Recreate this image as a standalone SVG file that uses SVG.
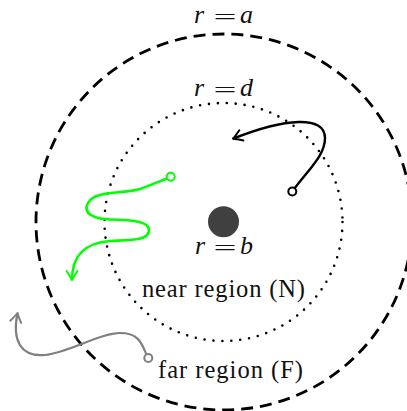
<svg xmlns="http://www.w3.org/2000/svg" width="407" height="411" viewBox="0 0 407 411">
<style>
.lbl{font-family:"Liberation Serif","Times New Roman",serif;font-size:24.5px;fill:#111}
.it{font-style:italic;font-size:26px}
.eq{font-size:22px}
.open{fill:#fff;stroke-width:2}
</style>
<defs>
<marker id="ahB" markerUnits="userSpaceOnUse" markerWidth="16" markerHeight="16" refX="0" refY="0" viewBox="-10 -8 12 16" orient="auto">
<path d="M-9,-5.5 Q-3,-1.5 0,0 Q-3,1.5 -9,5.5" fill="none" stroke="#000" stroke-width="2" stroke-linecap="round" stroke-linejoin="round"/>
</marker>
<marker id="ahG" markerUnits="userSpaceOnUse" markerWidth="16" markerHeight="16" refX="0" refY="0" viewBox="-10 -8 12 16" orient="auto">
<path d="M-9,-5.5 Q-3,-1.5 0,0 Q-3,1.5 -9,5.5" fill="none" stroke="#00ff00" stroke-width="2" stroke-linecap="round" stroke-linejoin="round"/>
</marker>
<marker id="ahY" markerUnits="userSpaceOnUse" markerWidth="16" markerHeight="16" refX="0" refY="0" viewBox="-10 -8 12 16" orient="auto">
<path d="M-9,-5.5 Q-3,-1.5 0,0 Q-3,1.5 -9,5.5" fill="none" stroke="#808080" stroke-width="2" stroke-linecap="round" stroke-linejoin="round"/>
</marker>
</defs>
<g id="outer-boundary">
<circle cx="224" cy="222" r="188" fill="none" stroke="#000" stroke-width="2.8" stroke-dasharray="12 7"/>
<text class="lbl" y="23"><tspan class="it" x="194">r</tspan></text>
<text class="lbl eq" x="213.5" y="24" textLength="23" lengthAdjust="spacingAndGlyphs">=</text>
<text class="lbl" y="23"><tspan class="it" x="240">a</tspan></text>
</g>
<g id="near-boundary">
<circle cx="223.5" cy="222" r="119" fill="none" stroke="#000" stroke-width="2.6" stroke-linecap="round" stroke-dasharray="0 8.95"/>
<text class="lbl" y="96"><tspan class="it" x="194">r</tspan></text>
<text class="lbl eq" x="213.5" y="97" textLength="23" lengthAdjust="spacingAndGlyphs">=</text>
<text class="lbl" y="96"><tspan class="it" x="240">d</tspan></text>
</g>
<g id="center-body">
<circle cx="223.5" cy="221.7" r="15.5" fill="#404040"/>
<text class="lbl" y="254"><tspan class="it" x="195">r</tspan></text>
<text class="lbl eq" x="213.5" y="255" textLength="23" lengthAdjust="spacingAndGlyphs">=</text>
<text class="lbl" y="254"><tspan class="it" x="240">b</tspan></text>
</g>
<g id="near-region">
<text class="lbl" x="142" y="297" textLength="163" lengthAdjust="spacing">near region (N)</text>
</g>
<g id="far-region">
<text class="lbl" x="158" y="378" textLength="145" lengthAdjust="spacing">far region (F)</text>
</g>
<g id="connectors">
<path d="M294.5,188.5 C310,168 325,155 325,138 C325,115 285,118 233,138.7" fill="none" stroke="#000" stroke-width="2.4" marker-end="url(#ahB)"/>
<circle class="open" cx="292.3" cy="191.5" r="4" stroke="#000"/>
<path d="M167,178.5 C158,182 148,186 140,189 C125,194 95,190 88,203 C82,214 95,219 110,219.5 C135,220 150,222 149,231 C148,241 130,240 110,241 C85,243 72,255 72,280" fill="none" stroke="#00ff00" stroke-width="2.6" marker-end="url(#ahG)"/>
<circle class="open" cx="170.7" cy="176.7" r="4" stroke="#00ff00"/>
<path d="M146.5,354.5 C142,345 140,333 120,333 C100,333 70,352 45,355 C20,357 12,340 17.5,313" fill="none" stroke="#808080" stroke-width="2.2" marker-end="url(#ahY)"/>
<circle class="open" cx="148.3" cy="358" r="4" stroke="#808080"/>
</g>
</svg>
